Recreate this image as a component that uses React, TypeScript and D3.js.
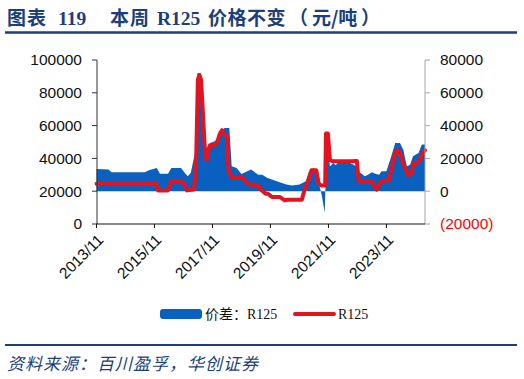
import React from "react";
import * as d3 from "d3";

// R125 price (元/吨), left axis
const priceDates = [
  "2013-11-01","2015-11-20","2015-12-15","2016-04-20","2016-06-01","2016-10-01","2016-11-20","2016-12-15",
  "2017-03-15","2017-04-10","2017-05-01","2017-05-20","2017-06-10","2017-07-01","2017-08-01","2017-08-20",
  "2017-09-15","2017-10-01","2017-12-01","2018-01-01","2018-02-01","2018-03-01","2018-04-15","2018-05-01",
  "2018-05-20","2018-06-01","2018-07-01","2018-11-01","2018-12-01","2019-01-01","2019-02-01","2019-04-01",
  "2019-06-01","2019-07-01","2019-09-01","2019-10-01","2019-11-20","2020-03-01","2020-05-01","2020-06-01",
  "2020-12-01","2021-01-01","2021-03-01","2021-04-01","2021-06-01","2021-07-01","2021-08-01","2021-09-20",
  "2021-10-01","2021-10-25","2021-11-20","2022-01-01","2022-08-01","2022-10-25","2022-11-15","2022-12-01",
  "2023-05-01","2023-07-01","2023-08-10","2023-10-01","2023-12-01","2024-02-20","2024-04-01","2024-06-01",
  "2024-08-01","2024-09-20","2024-10-01","2024-12-10","2025-02-10","2025-03-01"
];
const priceValues = [
  24600,24600,20500,20500,26200,26200,23500,20500,
  21000,40000,88000,90800,88000,70000,42000,39000,
  46000,48000,48000,50000,55000,57200,54000,54000,
  34000,30700,28600,28600,27500,25500,24600,23500,
  23500,21000,18500,18500,16400,16400,14400,14800,
  14800,20500,27600,32700,32700,24600,23500,23500,
  55200,55200,38800,38200,38200,38400,26600,25600,
  25600,20900,25000,26600,26600,43900,45000,36800,
  29700,31000,36800,37800,43900,45000
];

// 价差：R125 (元/吨), right axis
const spreadDates = [
  "2013-11-01","2014-04-01","2014-05-10","2015-07-01","2015-09-01","2015-12-01","2016-01-10","2016-04-20",
  "2016-06-01","2016-10-01","2016-11-20","2016-12-25","2017-02-01","2017-03-25","2017-04-25","2017-06-10",
  "2017-07-01","2017-08-20","2017-09-01","2017-10-01","2017-12-01","2018-02-01","2018-04-01","2018-06-01",
  "2018-07-01","2018-09-01","2018-11-01","2019-03-01","2019-06-01","2019-07-20","2019-09-25","2020-01-20",
  "2020-05-20","2020-08-01","2020-11-01","2021-01-20","2021-03-01","2021-05-01","2021-07-01","2021-08-10",
  "2021-09-15","2021-10-10","2021-11-20","2022-01-01","2022-02-01","2022-03-20","2022-05-20","2022-08-01",
  "2022-10-20","2022-12-01","2023-02-01","2023-03-15","2023-05-01","2023-06-15","2023-08-01","2023-09-01",
  "2023-11-01","2024-01-01","2024-02-20","2024-04-20","2024-06-01","2024-07-15","2024-08-25","2024-10-01",
  "2024-12-10","2025-01-20","2025-03-01"
];
const spreadValues = [
  13600,13200,11500,11500,13000,14200,10700,10700,
  14200,14200,11000,9100,11200,23300,71900,71900,
  53700,19300,19000,29400,30400,34400,38500,38500,
  15200,14200,10500,13200,10100,10100,8100,6100,
  4100,3500,4100,6100,12100,14200,5100,-3000,
  -13100,30000,15200,17200,16000,18200,17200,17200,
  15200,11500,9100,10100,11500,10700,10100,12100,
  12100,21300,29400,29400,25300,15200,16200,21300,
  23300,28400,28400
];

const xTickDates = ["2013-11-01","2015-11-01","2017-11-01","2019-11-01","2021-11-01","2023-11-01"];
const xTickLabels = ["2013/11","2015/11","2017/11","2019/11","2021/11","2023/11"];
const leftTicks = [0, 20000, 40000, 60000, 80000, 100000];
const rightTicks = [-20000, 0, 20000, 40000, 60000, 80000];

const title1 = "图表";
const title2 = "119";
const title3 = "本周";
const title4 = "R125";
const title5 = "价格不变";
const title6a = "（";
const title6b = "元/吨";
const title6c = "）";
const legendSpread = "价差：R125";
const legendPrice = "R125";
const source = "资料来源：百川盈孚，华创证券";

const parse = d3.timeParse("%Y-%m-%d");

export default function App() {
  const x = d3.scaleTime()
    .domain([parse("2013-11-01")!, parse("2025-03-01")!])
    .range([96.5, 425]);
  const yL = d3.scaleLinear().domain([0, 100000]).range([224, 60]);
  const yR = d3.scaleLinear().domain([-20000, 80000]).range([224, 60]);

  const price = priceDates.map((d, i) => ({ d: parse(d)!, v: priceValues[i] }));
  const spread = spreadDates.map((d, i) => ({ d: parse(d)!, v: spreadValues[i] }));

  const area = d3.area<{ d: Date; v: number }>()
    .x((p) => x(p.d))
    .y0(yR(0))
    .y1((p) => yR(p.v));
  const line = d3.line<{ d: Date; v: number }>()
    .x((p) => x(p.d))
    .y((p) => yL(p.v));

  const navy = "#1c3f7c";
  const blue = "#0a60be";
  const red = "#e3141f";
  const axisFont = "'Liberation Sans', Arial, sans-serif";
  const serif = "'Liberation Serif', 'Times New Roman', 'Noto Sans CJK SC', serif";
  const cjk = "'Noto Sans CJK SC', sans-serif";

  return (
    <svg width={524} height={379} style={{ position: "absolute", left: 0, top: 0, background: "#fff" }}>
      {/* title */}
      <g fill={navy} fontWeight="bold">
        <text x={7} y={25} fontFamily={cjk} fontSize={19} letterSpacing={1}>{title1}</text>
        <text x={58} y={25} fontFamily={serif} fontSize={19.5}>{title2}</text>
        <text x={110} y={25} fontFamily={cjk} fontSize={19} letterSpacing={1}>{title3}</text>
        <text x={157} y={25} fontFamily={serif} fontSize={19.5}>{title4}</text>
        <text x={208} y={25} fontFamily={cjk} fontSize={19} letterSpacing={0.5}>{title5}</text>
        <text x={289} y={25} fontFamily={cjk} fontSize={19}>{title6a}</text>
        <text x={312} y={25} fontFamily={cjk} fontSize={19}>{title6b}</text>
        <text x={361} y={25} fontFamily={cjk} fontSize={19}>{title6c}</text>
      </g>
      <line x1={5} x2={517} y1={32.5} y2={32.5} stroke={navy} strokeWidth={2.5} />

      {/* spread area */}
      <path d={area(spread)!} fill={blue} />
      {/* price line */}
      <path d={line(price)!} fill="none" stroke={red} strokeWidth={4} strokeLinejoin="round" strokeLinecap="round" />

      {/* left axis */}
      <line x1={97} x2={97} y1={60} y2={224} stroke="#333" strokeWidth={1} />
      {leftTicks.map((t) => (
        <g key={"l" + t}>
          <line x1={92} x2={97} y1={yL(t)} y2={yL(t)} stroke="#333" />
          <text x={82} y={yL(t)} dy="0.35em" textAnchor="end" fontFamily={axisFont} fontSize={15.5} fill="#111">{t}</text>
        </g>
      ))}
      {/* right axis */}
      <line x1={425} x2={425} y1={60} y2={224} stroke="#a6a6a6" strokeWidth={1} />
      {rightTicks.map((t) => (
        <g key={"r" + t}>
          <line x1={425} x2={430} y1={yR(t)} y2={yR(t)} stroke="#a6a6a6" />
          <text x={440} y={yR(t)} dy="0.35em" textAnchor="start" fontFamily={axisFont} fontSize={15.5} fill={t < 0 ? "#ff0000" : "#111"}>
            {t < 0 ? `(${Math.abs(t)})` : t}
          </text>
        </g>
      ))}
      {/* bottom axis */}
      <line x1={96.5} x2={425} y1={224} y2={224} stroke="#111" strokeWidth={1} />
      {xTickDates.map((d, i) => {
        const xx = x(parse(d)!);
        return (
          <g key={d}>
            <line x1={xx} x2={xx} y1={224} y2={228} stroke="#111" />
            <text
              transform={`translate(${xx + 4},${237}) rotate(-45)`}
              textAnchor="end"
              dy="0.35em"
              fontFamily={axisFont}
              fontSize={15.5}
              fill="#111"
            >
              {xTickLabels[i]}
            </text>
          </g>
        );
      })}

      {/* legend */}
      <rect x={160} y={309} width={42} height={10} rx={3} fill={blue} />
      <text x={205} y={319} fontFamily={serif} fontSize={14} fill="#111">{legendSpread}</text>
      <line x1={295} x2={334} y1={314} y2={314} stroke={red} strokeWidth={4} strokeLinecap="round" />
      <text x={338} y={319} fontFamily={serif} fontSize={14} fill="#111">{legendPrice}</text>

      {/* footer */}
      <line x1={5} x2={517} y1={345} y2={345} stroke={navy} strokeWidth={2} />
      <text x={7} y={370} fontFamily={cjk} fontSize={17} fontStyle="italic" letterSpacing={1} fill={navy}>{source}</text>
    </svg>
  );
}
